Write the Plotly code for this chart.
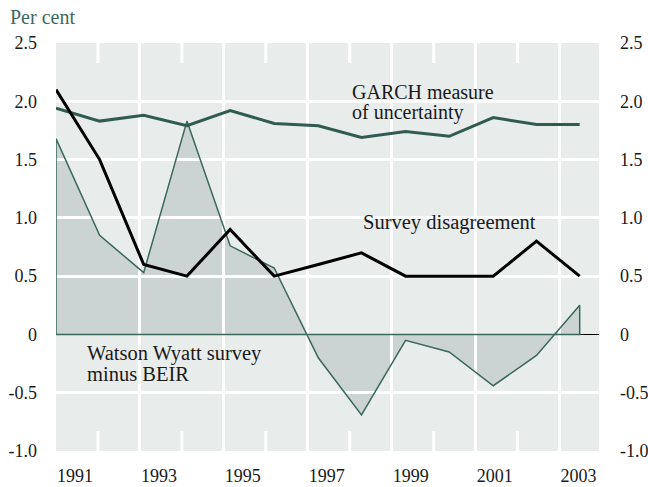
import plotly.graph_objects as go

# ---- data ----
obs_x = [1991.0, 1992.04, 1993.09, 1994.12, 1995.15, 1996.2, 1997.25,
         1998.28, 1999.33, 2000.37, 2001.42, 2002.45, 2003.48]
survey_disagreement = [2.1, 1.5, 0.6, 0.5, 0.9, 0.5, 0.6, 0.7, 0.5, 0.5, 0.5, 0.8, 0.5]
garch_uncertainty = [1.94, 1.83, 1.88, 1.79, 1.92, 1.81, 1.79, 1.69, 1.74, 1.70, 1.86, 1.80, 1.80]
watson_minus_beir = [1.68, 0.85, 0.53, 1.83, 0.76, 0.57, -0.20, -0.69, -0.05, -0.15, -0.44, -0.18, 0.25]

year_ticks = [1991, 1993, 1995, 1997, 1999, 2001, 2003]
year_labels = ["1991", "1993", "1995", "1997", "1999", "2001", "2003"]
half_ticks = [1992, 1994, 1996, 1998, 2000, 2002]
y_ticks = [-1.0, -0.5, 0, 0.5, 1.0, 1.5, 2.0, 2.5]
y_labels = ["-1.0", "-0.5", "0", "0.5", "1.0", "1.5", "2.0", "2.5"]

BG = "#e8ecea"
FILL = "#cbd4d2"
TEAL = "#2f5b51"
TEAL_THIN = "#3a685c"
FONT = "Liberation Serif, DejaVu Serif, serif"
TXT = "#1a1a1a"

# polygon for the shaded area (closed down to zero), built from the data
poly_x = [obs_x[0]] + obs_x + [obs_x[-1], obs_x[0]]
poly_y = [0] + watson_minus_beir + [0, 0]
path = "M " + " L ".join(f"{x},{y}" for x, y in zip(poly_x, poly_y)) + " Z"

fig = go.Figure()

fig.add_trace(go.Scatter(x=poly_x, y=poly_y, mode="lines",
                         line=dict(color=TEAL_THIN, width=1.5),
                         hoverinfo="skip", showlegend=False))
fig.add_trace(go.Scatter(x=obs_x, y=garch_uncertainty, mode="lines",
                         line=dict(color=TEAL, width=3), showlegend=False))
fig.add_trace(go.Scatter(x=obs_x, y=survey_disagreement, mode="lines", yaxis="y2",
                         line=dict(color="#000000", width=3), showlegend=False))

# shaded area sits below the white gridlines
fig.add_shape(type="path", path=path, xref="x", yref="y", layer="below",
              fillcolor=FILL, line=dict(width=0))

# short white half-year marks at top and bottom of the plot area
for hx in half_ticks:
    fig.add_shape(type="line", xref="x", yref="paper", x0=hx, x1=hx,
                  ysizemode="pixel", yanchor=0, y0=0, y1=20,
                  line=dict(color="white", width=3), layer="between")
    fig.add_shape(type="line", xref="x", yref="paper", x0=hx, x1=hx,
                  ysizemode="pixel", yanchor=1, y0=0, y1=-20,
                  line=dict(color="white", width=3), layer="between")

fig.update_layout(
    width=648, height=487,
    margin=dict(l=55.5, r=49, t=43, b=36.3, autoexpand=False),
    paper_bgcolor="white", plot_bgcolor=BG,
    font=dict(family=FONT, size=18, color=TXT),
    showlegend=False,
    xaxis=dict(range=[1991, 2003.94], tickvals=year_ticks, ticktext=year_labels,
               showgrid=True, gridcolor="white", gridwidth=3,
               zeroline=False, showline=False, ticks="",
               ticklabelshift=19, ticklabelstandoff=12,
               tickfont=dict(family=FONT, size=18, color=TXT),
               fixedrange=True),
    yaxis=dict(range=[-1, 2.5], tickvals=y_ticks, ticktext=y_labels,
               showgrid=True, gridcolor="white", gridwidth=3,
               zeroline=True, zerolinecolor="#000000", zerolinewidth=1,
               showline=False, ticks="", ticklabelstandoff=18,
               tickfont=dict(family=FONT, size=18, color=TXT),
               fixedrange=True),
    yaxis2=dict(range=[-1, 2.5], tickvals=y_ticks, ticktext=y_labels,
                overlaying="y", side="right", showgrid=False, zeroline=False,
                showline=False, ticks="", ticklabelstandoff=20,
                tickfont=dict(family=FONT, size=18, color=TXT),
                fixedrange=True),
)

ann_font = dict(family=FONT, size=20, color=TXT)
fig.add_annotation(text="Per cent", xref="paper", yref="paper", x=-0.088, y=1.064,
                   xanchor="left", yanchor="middle", showarrow=False,
                   font=dict(family=FONT, size=20, color="#3d6a5e"))
fig.add_annotation(text="GARCH measure", x=1998.0, y=2.08, xanchor="left",
                   yanchor="middle", showarrow=False, font=ann_font)
fig.add_annotation(text="of uncertainty", x=1998.0, y=1.90, xanchor="left",
                   yanchor="middle", showarrow=False, font=ann_font)
fig.add_annotation(text="Survey disagreement", x=1998.27, y=0.957, xanchor="left",
                   yanchor="middle", showarrow=False,
                   font=dict(family=FONT, size=20.5, color=TXT))
fig.add_annotation(text="Watson Wyatt survey", x=1991.7, y=-0.163, xanchor="left",
                   yanchor="middle", showarrow=False,
                   font=dict(family=FONT, size=20.5, color=TXT))
fig.add_annotation(text="minus BEIR", x=1991.7, y=-0.343, xanchor="left",
                   yanchor="middle", showarrow=False,
                   font=dict(family=FONT, size=20.5, color=TXT))

# page without the browser's default body margin so the 648x487 figure fills the window
fig.write_html("out.html", config={"displayModeBar": False},
               post_script="document.body.style.margin='0';")
